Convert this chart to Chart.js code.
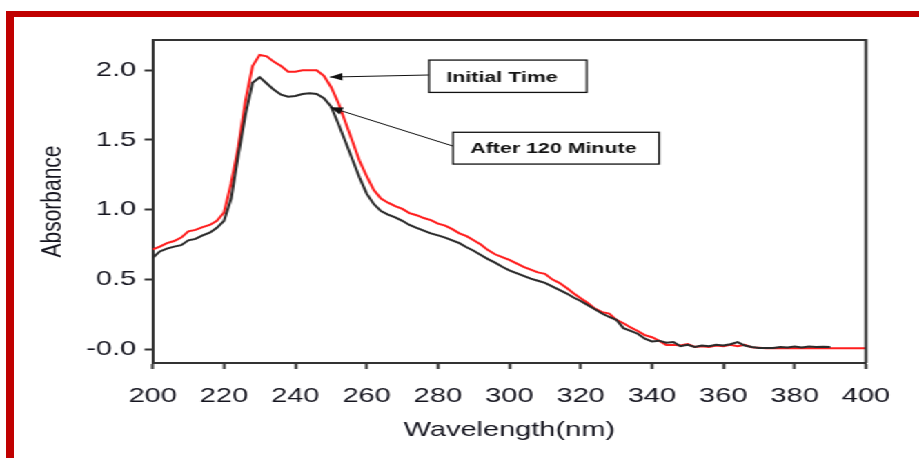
<!DOCTYPE html>
<html>
<head>
<meta charset="utf-8">
<script src="https://cdn.jsdelivr.net/npm/chart.js@4.4.1/dist/chart.umd.min.js"></script>
<style>
  html, body { margin: 0; padding: 0; background: #fff; overflow: hidden; }
  /* the original picture is stretched sideways, so draw narrow and widen it */
  #wrap { position: absolute; left: 0; top: 0; width: 666px; height: 458px; transform: scaleX(1.38); transform-origin: 0 0; }
  #specChart { position: absolute; left: 0; top: 0; }
  .bar { position: absolute; background: #c00000; }
</style>
</head>
<body>
<div id="wrap">
  <canvas id="specChart" width="666" height="458" style="width:666px;height:458px"></canvas>
  <div class="bar" style="left:4.35px;top:11px;right:0;height:6px"></div>
  <div class="bar" style="left:4.35px;top:11px;width:5.8px;bottom:0"></div>
</div>
<script>
const wavelengths = [200,202,204,206,208,210,212,214,216,218,220,222,224,226,228,230,232,234,236,238,
  240,242,244,246,248,250,252,254,256,258,260,262,264,266,268,270,272,274,276,278,
  280,282,284,286,288,290,292,294,296,298,300,302,304,306,308,310,312,314,316,318,
  320,322,324,326,328,330,332,334,336,338,340,342,344,346,348,350,352,354,356,358,
  360,362,364,366,368,370,372,374,376,378,380,382,384,386,388,390,392,394,396,398,400];

const initialTime = [0.715,0.735,0.76,0.775,0.80,0.845,0.855,0.875,0.89,0.92,0.98,1.19,1.45,1.78,2.03,2.11,2.10,2.06,2.03,1.99,
  1.99,2.00,2.00,2.00,1.96,1.88,1.77,1.63,1.49,1.35,1.24,1.14,1.08,1.05,1.025,1.005,0.975,0.96,0.94,0.925,
  0.90,0.885,0.86,0.83,0.81,0.78,0.75,0.71,0.68,0.66,0.64,0.615,0.59,0.57,0.55,0.54,0.50,0.475,0.44,0.40,
  0.365,0.33,0.29,0.265,0.255,0.21,0.185,0.155,0.13,0.10,0.085,0.06,0.03,0.03,0.025,0.035,0.015,0.02,0.015,0.025,
  0.02,0.03,0.02,0.03,0.012,0.01,0.005,0.005,0.005,0.005,0.005,0.005,0.005,0.005,0.005,0.005,0.005,0.005,0.005,0.005,0.005];

const after120 = [0.655,0.70,0.72,0.735,0.745,0.78,0.79,0.815,0.835,0.87,0.92,1.08,1.39,1.68,1.91,1.95,1.905,1.86,1.825,1.81,
  1.815,1.83,1.835,1.83,1.80,1.74,1.62,1.49,1.36,1.23,1.115,1.04,0.99,0.965,0.945,0.92,0.89,0.87,0.85,0.83,
  0.815,0.80,0.78,0.76,0.73,0.705,0.675,0.645,0.62,0.59,0.565,0.545,0.525,0.505,0.49,0.475,0.45,0.425,0.40,0.37,
  0.345,0.315,0.285,0.255,0.23,0.21,0.15,0.13,0.11,0.075,0.055,0.06,0.045,0.05,0.02,0.03,0.015,0.025,0.02,0.03,
  0.025,0.035,0.05,0.025,0.015,0.008,0.008,0.008,0.015,0.012,0.018,0.012,0.018,0.014,0.016,0.015,null,null,null,null,null];

const yTickValues = [0, 0.5, 1.0, 1.5, 2.0];
const yTickLabels = ['-0.0', '0.5', '1.0', '1.5', '2.0'];

const seriesNames = ['After 120 Minute', 'Initial Time'];

// callout boxes and arrow tips, in data units (wavelength, absorbance)
const callouts = [
  { text: 'Initial Time', box: [277.5, 2.073, 321.7, 1.841], from: [277.5, 1.966], tip: [249.7, 1.951] },
  { text: 'After 120 Minute', box: [284.2, 1.555, 342.0, 1.327], from: [284.2, 1.456], tip: [249.8, 1.734] }
];

const axisFont = { family: "'Liberation Sans', Arial, sans-serif", size: 21 };
const inkColor = '#15151f';

const toPoints = arr => wavelengths.map((w, i) => ({ x: w, y: arr[i] }));

const framePlugin = {
    id: 'frame',
    afterDatasetsDraw(chart) {
        const { ctx, chartArea: a, scales: { x, y } } = chart;
        ctx.save();
        ctx.strokeStyle = '#333';
        ctx.lineWidth = 2;
        ctx.beginPath();
        ctx.moveTo(a.left, a.top);
        ctx.lineTo(a.right, a.top);
        ctx.lineTo(a.right, a.bottom);
        ctx.stroke();

        callouts.forEach(c => {
            const x1 = x.getPixelForValue(c.box[0]), y1 = y.getPixelForValue(c.box[1]);
            const x2 = x.getPixelForValue(c.box[2]), y2 = y.getPixelForValue(c.box[3]);
            ctx.fillStyle = '#fff';
            ctx.fillRect(x1, y1, x2 - x1, y2 - y1);
            ctx.strokeStyle = '#111';
            ctx.lineWidth = 1.3;
            ctx.strokeRect(x1, y1, x2 - x1, y2 - y1);
            ctx.fillStyle = '#111';
            ctx.font = "bold 15.5px 'Liberation Sans', Arial, sans-serif";
            ctx.textBaseline = 'middle';
            ctx.textAlign = 'left';
            ctx.fillText(c.text, x1 + 12.5, (y1 + y2) / 2 + 1);

            // arrow
            const fx = x.getPixelForValue(c.from[0]), fy = y.getPixelForValue(c.from[1]);
            const tx = x.getPixelForValue(c.tip[0]), ty = y.getPixelForValue(c.tip[1]);
            ctx.strokeStyle = '#111';
            ctx.lineWidth = 1;
            ctx.beginPath();
            ctx.moveTo(fx, fy);
            ctx.lineTo(tx, ty);
            ctx.stroke();
            const ang = Math.atan2(ty - fy, tx - fx);
            const len = 9, half = 3.8;
            ctx.beginPath();
            ctx.moveTo(tx, ty);
            ctx.lineTo(tx - len * Math.cos(ang) + half * Math.sin(ang), ty - len * Math.sin(ang) - half * Math.cos(ang));
            ctx.lineTo(tx - len * Math.cos(ang) - half * Math.sin(ang), ty - len * Math.sin(ang) + half * Math.cos(ang));
            ctx.closePath();
            ctx.fill();
        });
        ctx.restore();
    }
};

const specChart = new Chart(document.getElementById('specChart').getContext('2d'), {
    type: 'line',
    data: {
        datasets: [{
            label: seriesNames[0],
            data: toPoints(after120),
            borderColor: '#2b2b2b',
            borderWidth: 2,
            pointRadius: 0,
            tension: 0,
            spanGaps: false
        }, {
            label: seriesNames[1],
            data: toPoints(initialTime),
            borderColor: '#ff1e1e',
            borderWidth: 2,
            pointRadius: 0,
            tension: 0
        }]
    },
    options: {
        responsive: false,
        animation: false,
        layout: { padding: { left: 0, top: 40, right: 38.5, bottom: 0 } },
        plugins: { legend: { display: false }, tooltip: { enabled: false } },
        scales: {
            x: {
                type: 'linear',
                min: 200,
                max: 400,
                afterFit: s => { s.height = 95; },
                ticks: { stepSize: 20, padding: 15, color: inkColor, font: axisFont, maxRotation: 0 },
                grid: { drawOnChartArea: false, drawTicks: true, tickLength: 6, tickColor: '#333', tickWidth: 2 },
                border: { display: true, color: '#333', width: 2 },
                title: { display: true, text: 'Wavelength(nm)', color: inkColor, font: axisFont, padding: { top: 0, bottom: 15.4 } }
            },
            y: {
                min: -0.1,
                max: 2.217,
                afterFit: s => { s.width = 110.65; },
                afterBuildTicks: s => { s.ticks = yTickValues.map(v => ({ value: v })); },
                ticks: {
                    padding: 6,
                    color: inkColor,
                    font: axisFont,
                    callback: v => yTickLabels[yTickValues.indexOf(v)]
                },
                grid: { drawOnChartArea: false, drawTicks: true, tickLength: 6, tickColor: '#333', tickWidth: 2 },
                border: { display: true, color: '#333', width: 2 },
                title: { display: true, text: 'Absorbance', color: inkColor, font: axisFont, padding: { top: 25.8, bottom: 0 } }
            }
        }
    },
    plugins: [framePlugin]
});
</script>
</body>
</html>
